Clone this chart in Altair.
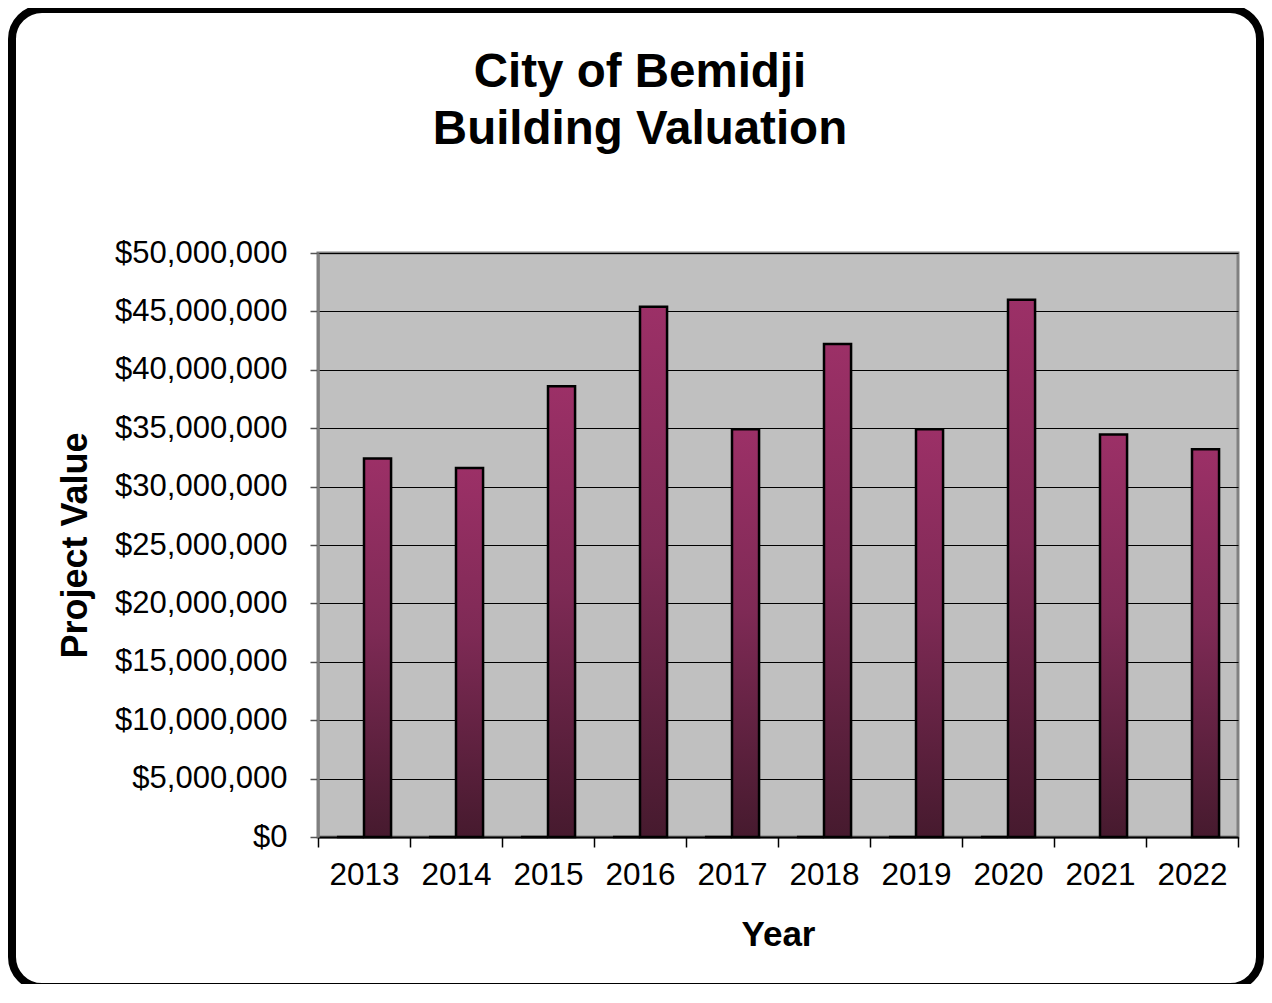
import altair as alt
import pandas as pd

years = ["2013", "2014", "2015", "2016", "2017", "2018", "2019", "2020", "2021", "2022"]
values = [32400000, 31600000, 38600000, 45400000, 34900000, 42200000, 34900000, 46000000, 34450000, 33200000]
zero_series = [0, 0, 0, 0, 0, 0, 0, 0, None, None]
y_ticks = [0, 5000000, 10000000, 15000000, 20000000, 25000000, 30000000, 35000000, 40000000, 45000000, 50000000]
title_lines = ["City of Bemidji", "Building Valuation"]

rows = []
for y, z, v in zip(years, zero_series, values):
    if z is not None:
        rows.append({"year": y, "series": "a", "value": z})
    rows.append({"year": y, "series": "b", "value": v})
df = pd.DataFrame(rows)

FONT = "Liberation Sans"
W, H = 920, 584

grad = alt.Gradient(
    gradient="linear",
    stops=[alt.GradientStop(color="#9C3067", offset=0),
           alt.GradientStop(color="#7E2A55", offset=0.45),
           alt.GradientStop(color="#461A2E", offset=1)],
    x1=0, x2=0, y1=0, y2=1,
)

bars = alt.Chart(df).mark_bar(fill=grad, stroke="black", strokeWidth=2.5).encode(
    x=alt.X("year:N", sort=years,
            scale=alt.Scale(paddingInner=0, paddingOuter=0),
            axis=alt.Axis(title="Year", labelAngle=0, labelFontSize=31.5, labelFont=FONT,
                          labelColor="black", labelPadding=12, tickBand="extent",
                          tickSize=10, tickColor="black", tickWidth=1.5,
                          domainColor="black", domainWidth=2,
                          titleFont=FONT, titleFontSize=35, titleFontWeight="bold",
                          titleColor="black", titlePadding=27)),
    xOffset=alt.XOffset("series:N", scale=alt.Scale(paddingOuter=0.7, paddingInner=0)),
    y=alt.Y("value:Q",
            scale=alt.Scale(domain=[0, 50000000], nice=False),
            axis=alt.Axis(title="Project Value", values=y_ticks, format="$,.0f",
                          labelFontSize=31, labelFont=FONT, labelColor="black",
                          labelPadding=23, tickSize=8, tickColor="#555555", tickWidth=1.5,
                          domainColor="#808080", domainWidth=2.5,
                          grid=True, gridColor="black", gridWidth=1.2,
                          titleFont=FONT, titleFontSize=36, titleFontWeight="bold",
                          titleColor="black", titlePadding=24)),
)

frame_df = pd.DataFrame({"k": [0]})
frame = alt.Chart(frame_df).mark_rect(
    fill="transparent", stroke="black", strokeWidth=8, cornerRadius=30, clip=False
).encode(
    x=alt.value(-306), x2=alt.value(942), y=alt.value(-244), y2=alt.value(734)
)

title = alt.Chart(frame_df).mark_text(
    font=FONT, fontSize=47.5, fontWeight="bold", color="black",
    align="center", baseline="alphabetic", lineHeight=57
).encode(
    x=alt.value(322), y=alt.value(-166), text=alt.value(title_lines)
)

chart = alt.layer(bars, frame, title).properties(
    width=W, height=H,
    autosize=alt.AutoSizeParams(type="none"),
    padding={"left": 310, "top": 245, "right": 26, "bottom": 147},
    background="white",
).configure_view(fill="#C0C0C0", stroke="#808080", strokeWidth=3)

chart.save("out.html", embed_options={"renderer": "svg", "actions": False})
